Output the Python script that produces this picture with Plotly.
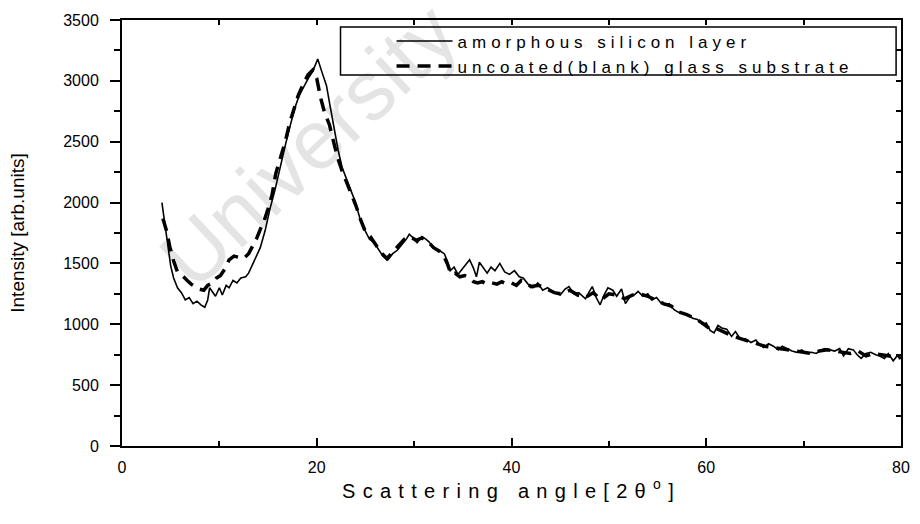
import plotly.graph_objects as go

# amorphous silicon layer (solid)
si_angle = [4.1, 4.4, 4.7, 5.0, 5.3, 5.7, 6.1, 6.5, 6.9, 7.3, 7.7, 8.1, 8.5, 8.8, 9.0, 9.3, 9.6, 10.0,
            10.3, 10.7, 11.0, 11.4, 11.8, 12.2, 12.7, 13.0, 13.4, 13.8, 14.2, 14.7, 15.2, 15.7, 16.2,
            16.8, 17.3, 17.8, 18.2, 18.7, 19.2, 19.6, 20.1, 20.5, 21.0, 21.4, 21.8, 22.2, 22.6, 23.0,
            23.5, 23.9, 24.4, 24.9, 25.4, 25.9, 26.3, 26.8, 27.3, 27.8, 28.3, 28.8, 29.2, 29.5, 29.9,
            30.3, 30.8, 31.2, 31.5, 31.9, 32.3, 32.7, 33.1, 33.4, 33.7, 34.1, 34.5, 34.9, 35.3, 35.7,
            36.1, 36.4, 36.7, 37.1, 37.5, 37.9, 38.3, 38.8, 39.3, 39.8, 40.3, 40.8, 41.2, 41.7, 42.2,
            42.7, 43.2, 43.7, 44.2, 44.6, 45.0, 45.5, 45.9, 46.4, 46.9, 47.3, 47.6, 48.0, 48.3, 48.7,
            49.1, 49.5, 49.9, 50.4, 50.8, 51.3, 51.7, 52.2, 52.6, 53.0, 53.5, 54.0, 54.4, 54.9, 55.3,
            55.7, 56.2, 56.7, 57.1, 57.6, 58.1, 58.6, 59.1, 59.6, 60.0, 60.4, 60.8, 61.2, 61.6, 62.1,
            62.6, 63.0, 63.5, 64.0, 64.6, 65.1, 65.5, 65.9, 66.4, 66.9, 67.4, 67.8, 68.3, 68.8, 69.3,
            69.8, 70.3, 70.8, 71.3, 71.8, 72.2, 72.7, 73.2, 73.7, 74.1, 74.6, 75.1, 75.5, 75.9, 76.4,
            76.9, 77.4, 77.8, 78.3, 78.7, 79.2, 79.6, 80.0]
si_intensity = [2000, 1820, 1650, 1480, 1380, 1300, 1260, 1200, 1220, 1170, 1190, 1160, 1140, 1200, 1300,
                1260, 1230, 1300, 1240, 1320, 1300, 1360, 1340, 1380, 1390, 1420, 1490, 1560, 1630, 1770,
                1950, 2100, 2280, 2480, 2640, 2790, 2880, 2960, 3030, 3080, 3180, 3080, 2960, 2780, 2600,
                2430, 2290, 2200, 2100, 2020, 1880, 1780, 1700, 1670, 1620, 1560, 1530, 1580, 1610, 1660,
                1700, 1740, 1710, 1670, 1720, 1700, 1680, 1640, 1610, 1600, 1580, 1520, 1440, 1470, 1410,
                1450, 1490, 1530, 1460, 1390, 1510, 1460, 1420, 1470, 1440, 1500, 1430, 1410, 1440, 1390,
                1380, 1330, 1300, 1340, 1280, 1300, 1270, 1250, 1240, 1290, 1310, 1250, 1260, 1230, 1210,
                1270, 1310, 1220, 1160, 1240, 1300, 1280, 1230, 1290, 1170, 1230, 1240, 1270, 1230, 1250,
                1200, 1220, 1180, 1160, 1170, 1120, 1100, 1090, 1080, 1050, 1040, 1000, 1010, 950, 930,
                990, 970, 960, 900, 940, 880, 880, 850, 870, 830, 810, 840, 820, 790, 820, 800, 780, 770,
                790, 760, 770, 760, 790, 800, 790, 780, 800, 740, 800, 790, 750, 720, 760, 770, 750, 740,
                720, 760, 700, 740, 720]

# uncoated (blank) glass substrate (dashed)
glass_angle = [4.2, 4.6, 4.9, 5.3, 5.7, 6.2, 6.7, 7.1, 7.5, 7.9, 8.4, 8.8, 9.3, 9.7, 10.1, 10.6, 11.0,
               11.5, 12.0, 12.5, 13.0, 13.4, 13.8, 14.2, 14.6, 15.0, 15.4, 15.8, 16.3, 16.8, 17.2, 17.6,
               18.1, 18.6, 19.1, 19.6, 20.0, 20.4, 20.8, 21.3, 21.7, 22.1, 22.6, 23.1, 23.6, 24.0, 24.5,
               25.0, 25.5, 26.0, 26.6, 27.2, 27.8, 28.4, 29.0, 29.6, 30.2, 30.8, 31.4, 32.0, 32.6, 33.0,
               33.4, 33.8, 34.2, 34.7, 35.2, 35.7, 36.1, 36.5, 37.0, 37.5, 38.0, 38.5, 39.0, 39.5, 40.0,
               40.5, 41.0, 41.5, 42.0, 42.8, 43.6, 44.4, 45.2, 46.0, 46.8, 47.6, 48.4, 49.2, 50.0, 50.8,
               51.6, 52.4, 53.2, 54.0, 54.8, 55.6, 56.4, 57.2, 58.0, 58.8, 59.6, 60.4, 61.2, 62.0, 62.8,
               63.6, 64.4, 65.2, 66.0, 66.8, 67.6, 68.4, 69.2, 70.0, 70.8, 71.6, 72.4, 73.2, 74.0, 74.8,
               75.6, 76.4, 77.2, 78.0, 78.8, 79.6, 80.0]
glass_intensity = [1870, 1760, 1640, 1520, 1430, 1400, 1360, 1330, 1310, 1290, 1280, 1320, 1340, 1380,
                   1400, 1460, 1530, 1560, 1550, 1540, 1580, 1640, 1700, 1780, 1850, 1950, 2060, 2240,
                   2380, 2510, 2650, 2760, 2880, 2970, 3050, 3090, 3020, 2860, 2740, 2640, 2520, 2380,
                   2260, 2160, 2060, 1980, 1860, 1760, 1720, 1660, 1590, 1540, 1590, 1640, 1700, 1720,
                   1690, 1710, 1680, 1630, 1600, 1570, 1500, 1410, 1420, 1390, 1400, 1380, 1350, 1340,
                   1350, 1330, 1340, 1330, 1350, 1330, 1340, 1320, 1360, 1340, 1310, 1320, 1290, 1260,
                   1250, 1280, 1240, 1220, 1260, 1200, 1250, 1240, 1210, 1240, 1250, 1230, 1200, 1170,
                   1150, 1100, 1080, 1050, 1010, 960, 960, 930, 900, 880, 860, 840, 820, 810, 800, 790,
                   780, 770, 760, 780, 790, 780, 770, 760, 780, 740, 760, 750, 740, 720, 730, 710]

x_ticks = [0, 20, 40, 60, 80]
y_ticks = [0, 500, 1000, 1500, 2000, 2500, 3000, 3500]

FONT = "Liberation Sans, Arial, sans-serif"

fig = go.Figure()
fig.add_trace(go.Scatter(
    x=glass_angle, y=glass_intensity, mode="lines",
    name='<span style="letter-spacing:5px">uncoated(blank) glass substrate</span>',
    line=dict(color="black", width=3.5, dash="13px,8px"),
))
fig.add_trace(go.Scatter(
    x=si_angle, y=si_intensity, mode="lines",
    name='<span style="letter-spacing:5px">amorphous silicon layer</span>',
    line=dict(color="black", width=1.6),
))
# helper trace for mirrored (top/right) tick marks
fig.add_trace(go.Scatter(x=[None], y=[None], xaxis="x2", yaxis="y2",
                         showlegend=False, hoverinfo="skip"))

fig.update_layout(
    width=920, height=524,
    margin=dict(l=122, r=10, t=20, b=78),
    paper_bgcolor="white", plot_bgcolor="white",
    font=dict(family=FONT, color="black", size=16),
    showlegend=True,
    legend=dict(
        x=0.346, y=0.992, xanchor="left", yanchor="top",
        bgcolor="rgba(0,0,0,0)", borderwidth=0,
        font=dict(family=FONT, size=17, color="black"),
        traceorder="reversed", tracegroupgap=0, itemwidth=56,
    ),
    xaxis=dict(
        range=[0, 80], tickvals=x_ticks, ticks="inside", ticklen=8, tickwidth=1.5,
        tickcolor="black", showline=True, linecolor="black", linewidth=2, mirror=True,
        showgrid=False, zeroline=False, ticklabelstandoff=6,
        tickfont=dict(family=FONT, size=16, color="black"),
        minor=dict(dtick=10, ticks="inside", ticklen=5, tickwidth=1.5, tickcolor="black", showgrid=False),
        title=dict(text='<span style="letter-spacing:7.3px">Scattering angle[2θ<sup>o</sup>]</span>',
                   font=dict(family=FONT, size=20, color="black"), standoff=6),
    ),
    yaxis=dict(
        range=[0, 3500], tickvals=y_ticks, ticks="outside", ticklen=10, tickwidth=1.5,
        tickcolor="black", showline=True, linecolor="black", linewidth=2, mirror=True,
        showgrid=False, zeroline=False, ticklabelstandoff=8,
        tickfont=dict(family=FONT, size=16, color="black"),
        minor=dict(dtick=250, ticks="outside", ticklen=6, tickwidth=1.5, tickcolor="black", showgrid=False),
        title=dict(text="Intensity [arb.units]", font=dict(family=FONT, size=19, color="black"),
                   standoff=34),
    ),
    xaxis2=dict(range=[0, 80], overlaying="x", side="top", dtick=10, ticks="inside",
                ticklen=5, tickwidth=1.5, tickcolor="black", showticklabels=False,
                showgrid=False, zeroline=False, showline=False),
    yaxis2=dict(range=[0, 3500], overlaying="y", side="right", dtick=250, ticks="inside",
                ticklen=5, tickwidth=1.5, tickcolor="black", showticklabels=False,
                showgrid=False, zeroline=False, showline=False),
    shapes=[
        dict(
            type="line", xref="paper", yref="paper", x0=0.093, y0=0.479, x1=0.372, y1=0.958,
            line=dict(color="rgba(0,0,0,0)", width=0), layer="below",
            label=dict(text="University", textposition="middle", yanchor="middle",
                       font=dict(family=FONT, size=84, color="#e4e4e4")),
        ),
        # legend frame
        dict(type="rect", xref="paper", yref="paper", x0=0.2805, x1=0.9937, y0=0.871, y1=0.9836,
             line=dict(color="black", width=1.5), fillcolor="rgba(0,0,0,0)"),
    ],
)

fig.write_html("out.html")
